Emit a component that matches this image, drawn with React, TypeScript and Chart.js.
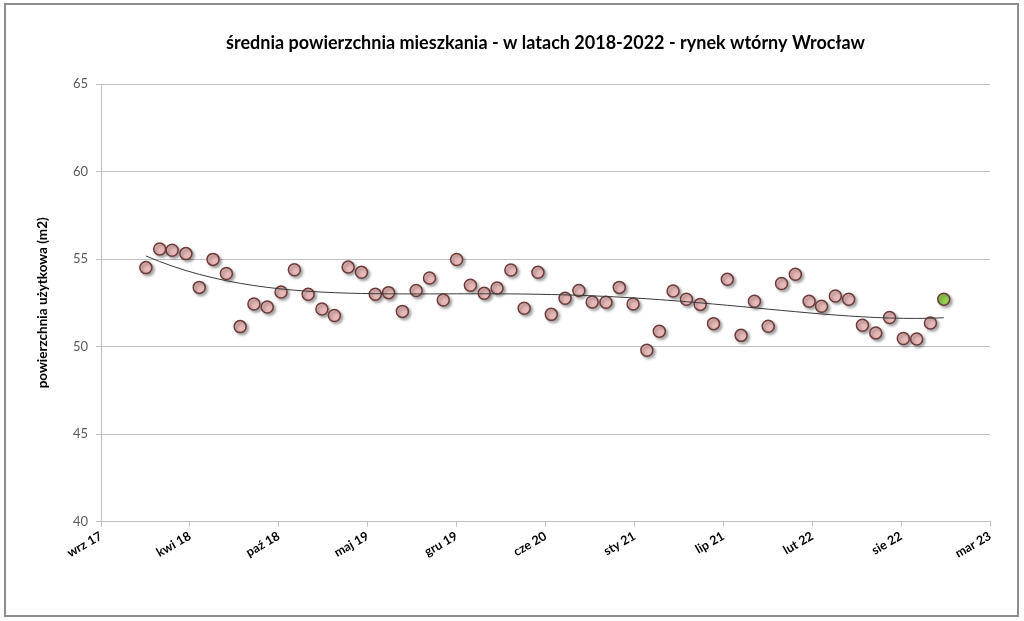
import { useEffect, useRef } from "react"
import { Chart, registerables } from "chart.js"

Chart.register(...registerables)

// miesiące pomiaru (pierwszy dzień miesiąca)
const months = [
  "2018-01", "2018-02", "2018-03", "2018-04", "2018-05", "2018-06", "2018-07", "2018-08", "2018-09", "2018-10", "2018-11", "2018-12",
  "2019-01", "2019-02", "2019-03", "2019-04", "2019-05", "2019-06", "2019-07", "2019-08", "2019-09", "2019-10", "2019-11", "2019-12",
  "2020-01", "2020-02", "2020-03", "2020-04", "2020-05", "2020-06", "2020-07", "2020-08", "2020-09", "2020-10", "2020-11", "2020-12",
  "2021-01", "2021-02", "2021-03", "2021-04", "2021-05", "2021-06", "2021-07", "2021-08", "2021-09", "2021-10", "2021-11", "2021-12",
  "2022-01", "2022-02", "2022-03", "2022-04", "2022-05", "2022-06", "2022-07", "2022-08", "2022-09", "2022-10", "2022-11", "2022-12",
]

// średnia powierzchnia (m2)
const avgArea = [
  54.51, 55.57, 55.5, 55.31, 53.38, 54.98, 54.17, 51.14, 52.43, 52.26, 53.12, 54.39,
  52.99, 52.15, 51.77, 54.54, 54.24, 52.99, 53.08, 52.01, 53.2, 53.92, 52.66, 54.97,
  53.5, 53.04, 53.34, 54.37, 52.19, 54.24, 51.84, 52.76, 53.2, 52.55, 52.53, 53.38,
  52.43, 49.79, 50.87, 53.17, 52.7, 52.41, 51.31, 53.84, 50.64, 52.59, 51.16, 53.6,
  54.13, 52.59, 52.3, 52.89, 52.7, 51.22, 50.78, 51.66, 50.46, 50.43, 51.35, 52.7,
]

// oś X (jak w Excelu: co 200 dni)
const xTickLabels = ["wrz 17", "kwi 18", "paź 18", "maj 19", "gru 19", "cze 20", "sty 21", "lip 21", "lut 22", "sie 22", "mar 23"]
const xAxisStart = "2017-09-22"
const xTickStepDays = 200

const yMin = 40
const yMax = 65
const yStep = 5

const trendOrder = 4

const TITLE = "średnia powierzchnia mieszkania - w latach 2018-2022 - rynek wtórny Wrocław"
const FONT = "Lato, 'Open Sans', sans-serif"

function toDay(s: string): number {
  const [y, m, d] = s.split("-").map(Number)
  return Date.UTC(y, m - 1, d || 1) / 86400000
}

// linia trendu wielomianowa (jak w Excelu)
function polyFit(xs: number[], ys: number[], order: number) {
  const x0 = xs[0]
  const span = xs[xs.length - 1] - xs[0]
  const n = order + 1
  const A: number[][] = Array.from({ length: n }, () => new Array(n + 1).fill(0))
  xs.forEach((xv, k) => {
    const t = (xv - x0) / span
    for (let i = 0; i < n; i++) {
      for (let j = 0; j < n; j++) A[i][j] += Math.pow(t, i + j)
      A[i][n] += Math.pow(t, i) * ys[k]
    }
  })
  for (let i = 0; i < n; i++) {
    let p = i
    for (let r = i + 1; r < n; r++) if (Math.abs(A[r][i]) > Math.abs(A[p][i])) p = r
    ;[A[i], A[p]] = [A[p], A[i]]
    for (let r = 0; r < n; r++) {
      if (r === i) continue
      const f = A[r][i] / A[i][i]
      for (let c = i; c <= n; c++) A[r][c] -= f * A[i][c]
    }
  }
  const coef = A.map((row, i) => row[n] / row[i])
  return (xv: number) => {
    const t = (xv - x0) / span
    return coef.reduce((s, c, i) => s + c * Math.pow(t, i), 0)
  }
}

const markerShadow = {
  id: "markerShadow",
  beforeDatasetDraw(chart: any, args: any) {
    if (args.meta.type === "line") return
    const c = chart.ctx
    c.save()
    c.shadowColor = "rgba(0,0,0,0.35)"
    c.shadowBlur = 3
    c.shadowOffsetX = 2
    c.shadowOffsetY = 2
  },
  afterDatasetDraw(chart: any, args: any) {
    if (args.meta.type !== "line") chart.ctx.restore()
  },
}

// tytuł wyśrodkowany nad obszarem wykresu
const plotTitle = {
  id: "plotTitle",
  afterDraw(chart: any) {
    const { ctx, chartArea } = chart
    ctx.save()
    ctx.font = `bold 18px ${FONT}`
    ctx.fillStyle = "#000"
    ctx.textAlign = "center"
    ctx.textBaseline = "middle"
    ctx.fillText(TITLE, (chartArea.left + chartArea.right) / 2, 43)
    ctx.restore()
  },
}

export default function App() {
  const chartRef = useRef<HTMLCanvasElement>(null)
  const chartInstance = useRef<Chart | null>(null)

  useEffect(() => {
    if (!chartRef.current) return
    if (chartInstance.current) chartInstance.current.destroy()

    const xs = months.map(toDay)
    const points = xs.map((x, i) => ({ x, y: avgArea[i] }))
    const trendFn = polyFit(xs, avgArea, trendOrder)
    const trend = xs.map((x) => ({ x, y: trendFn(x) }))
    const xMin = toDay(xAxisStart)
    const xMax = xMin + xTickStepDays * (xTickLabels.length - 1)
    const last = points.length - 1

    chartInstance.current = new Chart(chartRef.current, {
      type: "scatter",
      data: {
        datasets: [
          {
            type: "line",
            label: "trend",
            data: trend,
            borderColor: "#3a3a3a",
            borderWidth: 1,
            pointRadius: 0,
            fill: false,
            tension: 0,
          },
          {
            label: "średnia powierzchnia",
            data: points,
            pointRadius: 6,
            pointHoverRadius: 6,
            pointBorderWidth: 1.5,
            pointBorderColor: "#6d3b3a",
            pointBackgroundColor: (c: any) => (c.dataIndex === last ? "#92d050" : "#e6b9b8"),
          },
        ],
      } as any,
      options: {
        animation: false,
        responsive: true,
        maintainAspectRatio: false,
        layout: { padding: { left: 0, right: 34, top: 84, bottom: 19.4 } },
        plugins: {
          legend: { display: false },
          tooltip: { enabled: false },
          title: { display: false },
        },
        scales: {
          x: {
            type: "linear",
            position: "bottom",
            min: xMin,
            max: xMax,
            afterBuildTicks: (scale: any) => {
              scale.ticks = xTickLabels.map((_, i) => ({ value: xMin + i * xTickStepDays }))
            },
            afterFit: (scale: any) => {
              scale.height = 80
            },
            ticks: {
              autoSkip: false,
              minRotation: 30,
              maxRotation: 30,
              padding: 2,
              color: "#000",
              font: { family: FONT, size: 12.5, weight: "bold" },
              callback: (_v: any, i: number) => xTickLabels[i],
            },
            grid: { drawOnChartArea: false, drawTicks: true, tickLength: 5, color: "#bfbfbf" },
            border: { color: "#bfbfbf" },
          },
          y: {
            min: yMin,
            max: yMax,
            afterFit: (scale: any) => {
              scale.width = 101
            },
            ticks: {
              stepSize: yStep,
              padding: 8,
              color: "#595959",
              font: { family: FONT, size: 13 },
            },
            grid: { color: "#c0c0c0", tickLength: 5 },
            border: { color: "#bfbfbf" },
            title: {
              display: true,
              text: "powierzchnia użytkowa (m2)",
              color: "#000",
              font: { family: FONT, size: 13.5, weight: "bold" },
              padding: { top: 35, bottom: 0 },
            },
          },
        },
      },
      plugins: [markerShadow, plotTitle],
    })

    return () => {
      if (chartInstance.current) {
        chartInstance.current.destroy()
        chartInstance.current = null
      }
    }
  }, [])

  return (
    <div style={{ position: "absolute", left: 0, top: 0, width: 1024, height: 621, background: "#fff" }}>
      <canvas ref={chartRef}></canvas>
      <div
        style={{
          position: "absolute",
          left: 4,
          top: 3,
          width: 1011,
          height: 610,
          border: "2px solid #8e8e8e",
          pointerEvents: "none",
        }}
      />
    </div>
  )
}
